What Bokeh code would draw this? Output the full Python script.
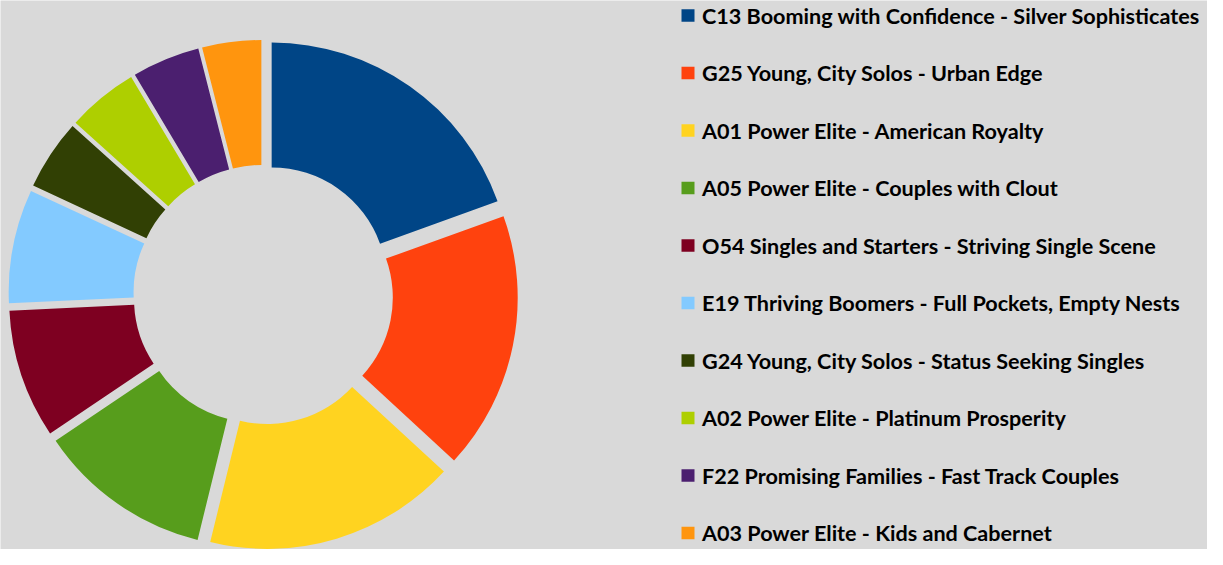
import numpy as np
from bokeh.plotting import figure
from bokeh.models import ColumnDataSource, Range1d
from bokeh.embed import file_html
from bokeh.resources import INLINE
from bokeh.core.properties import value

# ---------------- data ----------------
segments = [
    "C13 Booming with Confidence - Silver Sophisticates",
    "G25 Young, City Solos - Urban Edge",
    "A01 Power Elite - American Royalty",
    "A05 Power Elite - Couples with Clout",
    "O54 Singles and Starters - Striving Single Scene",
    "E19 Thriving Boomers - Full Pockets, Empty Nests",
    "G24 Young, City Solos - Status Seeking Singles",
    "A02 Power Elite - Platinum Prosperity",
    "F22 Promising Families - Fast Track Couples",
    "A03 Power Elite - Kids and Cabernet",
]
shares = [19.50, 17.36, 16.97, 11.74, 8.67, 7.67, 4.76, 4.79, 4.57, 3.97]
colors = ["#004586", "#ff420e", "#ffd320", "#579d1c", "#7e0021",
          "#83caff", "#314004", "#aecf00", "#4b1f6f", "#ff950e"]

# ---------------- layout (pixels) ----------------
W, H = 1207, 549
BG = "#d9d9d9"

def fx(x):
    return x

def fy(y):
    return H - y

CX, CY = fx(262.7), fy(294.2)
R_OUT, R_IN, EXPLODE = 240.1, 115.2, 14.7

vals = np.array(shares, dtype=float)
frac = vals / vals.sum()
phi_end = np.cumsum(frac) * 360.0
phi_start = phi_end - frac * 360.0
phi_mid = (phi_start + phi_end) / 2.0

src = ColumnDataSource(dict(
    x=CX + EXPLODE * np.sin(np.radians(phi_mid)),
    y=CY + EXPLODE * np.cos(np.radians(phi_mid)),
    start=np.radians(90.0 - phi_end),
    end=np.radians(90.0 - phi_start),
    color=colors,
    name=segments,
))

p = figure(width=W, height=H, x_range=Range1d(0, W), y_range=Range1d(0, H),
           output_backend="svg", toolbar_location=None, min_border=0,
           x_axis_location=None, y_axis_location=None,
           background_fill_color=BG, border_fill_color=BG,
           outline_line_color=None)
p.grid.visible = False

p.annular_wedge(x="x", y="y", inner_radius=R_IN, outer_radius=R_OUT,
                start_angle="start", end_angle="end", direction="anticlock",
                fill_color="color", line_color=None, source=src)

# ---------------- legend ----------------
n = len(segments)
row_y = [fy(15.0 + i * 57.5) for i in range(n)]
leg = ColumnDataSource(dict(
    sx=[fx(687.5)] * n,
    tx=[fx(701.5)] * n,
    y=row_y,
    color=colors,
    label=segments,
))
p.rect(x="sx", y="y", width=13, height=12.5, fill_color="color",
       line_color=None, source=leg)
p.text(x="tx", y="y", text="label", source=leg,
       text_font=value("Lato"), text_font_style="bold",
       text_font_size="21.6px", text_baseline="middle", text_align="left",
       text_color="#000000")

open("out.html", "w").write(file_html(p, INLINE))
